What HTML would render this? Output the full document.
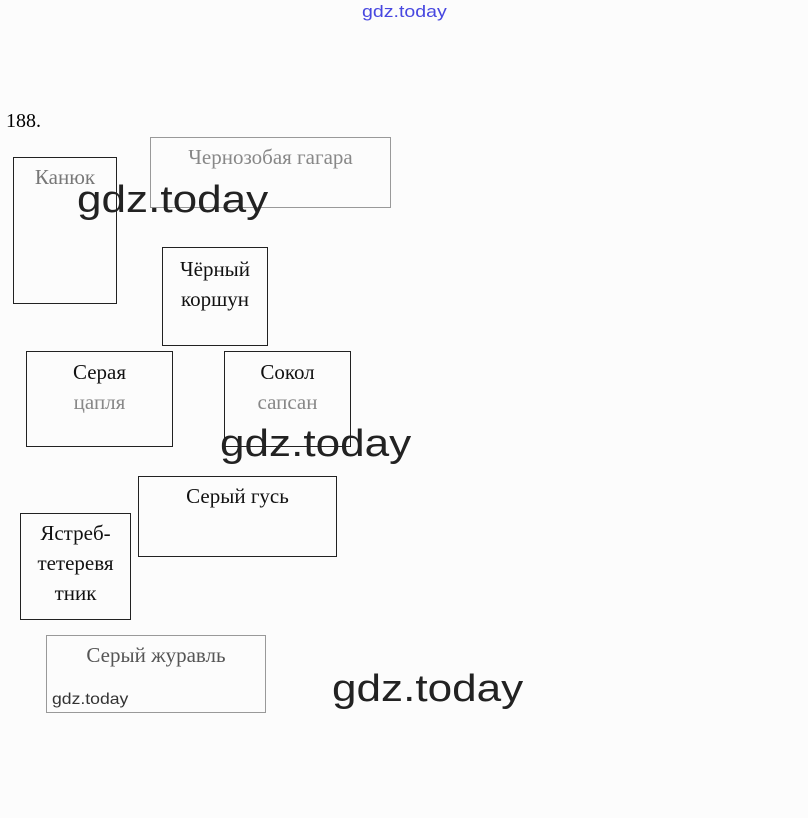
<!DOCTYPE html>
<html><head><meta charset="utf-8"><style>
body{margin:0;width:808px;height:818px;background:#fcfcfc;position:relative;overflow:hidden;font-family:"Liberation Serif",serif;}
.b{position:absolute;border:1px solid #222;box-sizing:border-box;text-align:center;font-size:21px;line-height:30px;color:#111;}
.g{border-color:#999;color:#888;}
.t{position:absolute;font-size:20px;}
.w{position:absolute;font-family:"Liberation Sans",sans-serif;color:#222;transform-origin:left top;}
</style></head><body>
<div class="w" style="left:362px;top:2px;font-size:17px;color:#4747e0;transform:scaleX(1.15);">gdz.today</div>
<div class="t" style="left:6px;top:110px;">188.</div>
<div class="b" style="left:13px;top:157px;width:104px;height:147px;padding-top:4px;color:#777;">Канюк</div>
<div class="b g" style="left:150px;top:137px;width:241px;height:71px;padding-top:4px;">Чернозобая гагара</div>
<div class="b" style="left:162px;top:247px;width:106px;height:99px;padding-top:6px;">Чёрный<br>коршун</div>
<div class="b" style="left:26px;top:351px;width:147px;height:96px;padding-top:5px;">Серая<br><span style="color:#888">цапля</span></div>
<div class="b" style="left:224px;top:351px;width:127px;height:96px;padding-top:5px;">Сокол<br><span style="color:#888">сапсан</span></div>
<div class="b" style="left:138px;top:476px;width:199px;height:81px;padding-top:4px;">Серый гусь</div>
<div class="b" style="left:20px;top:513px;width:111px;height:107px;padding-top:4px;">Ястреб-<br>тетеревя<br>тник</div>
<div class="b g" style="left:46px;top:635px;width:220px;height:78px;padding-top:4px;color:#555;">Серый журавль</div>
<div class="w" style="left:77px;top:179px;font-size:38px;transform:scaleX(1.16);">gdz.today</div>
<div class="w" style="left:220px;top:423px;font-size:38px;transform:scaleX(1.16);">gdz.today</div>
<div class="w" style="left:332px;top:668px;font-size:38px;transform:scaleX(1.16);">gdz.today</div>
<div class="w" style="left:52px;top:691px;font-size:16px;color:#333;transform:scaleX(1.1);">gdz.today</div>
</body></html>
